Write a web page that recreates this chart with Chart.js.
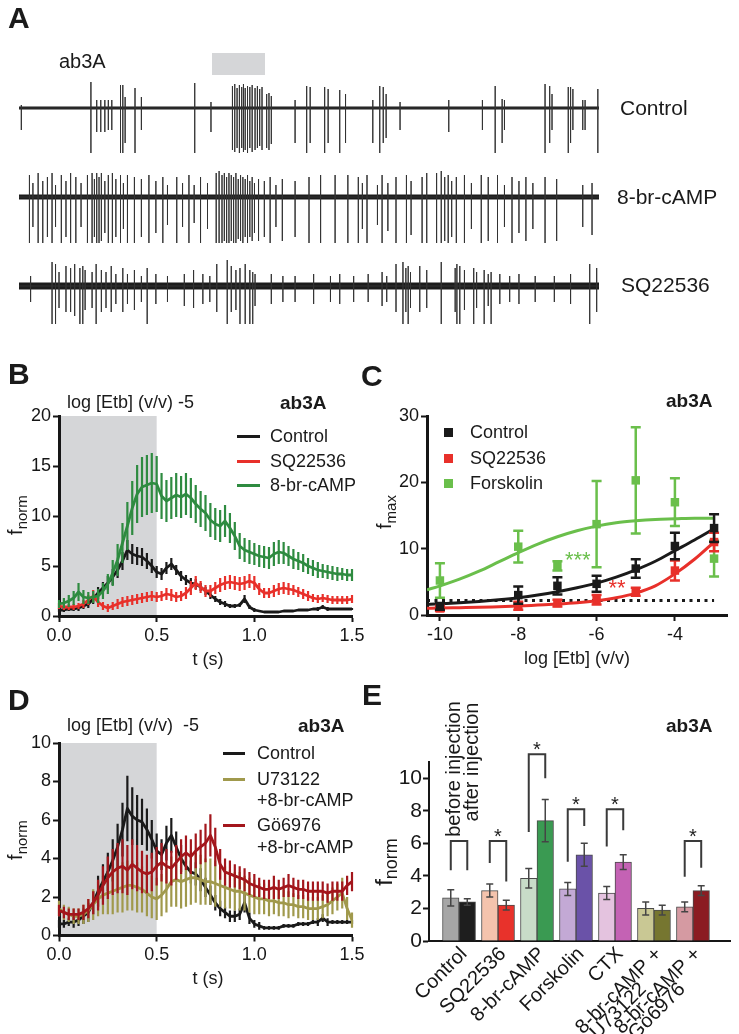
<!DOCTYPE html>
<html>
<head>
<meta charset="utf-8">
<script src="https://cdn.jsdelivr.net/npm/chart.js@4.4.1/dist/chart.umd.min.js"></script>
<style>
  html, body { margin: 0; padding: 0; background: #fff; }
  #page { position: relative; width: 739px; height: 1034px; overflow: hidden; background: #fff;
          font-family: 'Liberation Sans', Arial, Helvetica, sans-serif; color: #1a1a1a; }
  #page canvas { position: absolute; left: 0; top: 0; }
  .t { position: absolute; white-space: nowrap; line-height: 1; }
  .v { position: absolute; white-space: nowrap; line-height: 1; transform: translate(-50%, -50%) rotate(-90deg); }
  .sw { position: absolute; }
  sub { font-size: 0.75em; vertical-align: -0.3em; line-height: 0; }
</style>
</head>
<body>
<div id="page">
  <canvas id="chartA" width="739" height="1034"></canvas>
  <canvas id="chartB" width="739" height="1034"></canvas>
  <canvas id="chartC" width="739" height="1034"></canvas>
  <canvas id="chartD" width="739" height="1034"></canvas>
  <canvas id="chartE" width="739" height="1034"></canvas>
</div>
<script>
// ── Panel A: spike trains, [position % of trace, up, down] ─────────────────
const controlSpikes = [
  [0.4,3,22],[12.4,26,45],[13.4,8,24],[14.1,8,24],[14.8,8,24],[15.4,8,22],[16.0,8,22],[17.5,23,45],[17.9,23,45],
  [18.3,11,35],[20.0,20,45],[21.1,11,22],[30.3,25,45],[33.1,6,24],
  [36.8,22,42],[37.2,24,44],[37.6,20,40],[38.0,23,45],[38.4,21,40],[38.7,24,44],[39.0,20,42],[39.4,22,45],
  [39.8,21,40],[40.2,23,44],[40.7,20,42],[41.1,22,40],[41.5,19,38],[41.9,21,42],[42.7,14,40],[43.1,15,42],[43.5,12,36],
  [47.6,8,35],[49.6,22,45],[50.2,21,35],[52.7,21,45],[53.3,19,35],[55.3,18,45],[56.3,14,35],[61.0,8,35],
  [62.2,22,45],[62.8,21,35],[63.3,14,30],[65.7,6,22],[74.1,8,24],[79.9,8,22],[82.1,22,45],[83.3,9,35],[83.7,8,22],
  [90.7,24,45],[91.5,22,35],[91.9,14,22],[94.7,21,45],[95.1,21,35],[95.5,19,22],[97.2,8,22],[97.6,8,22],[99.8,19,45]
];
const cAMPSpikes = [
  [1.8,22,46],[2.4,14,30],[3.3,24,46],[4.1,16,46],[4.9,20,40],[5.7,24,46],[6.3,12,30],[7.3,22,46],[8.1,16,40],
  [8.9,24,46],[9.8,20,46],[10.7,14,30],[11.8,22,46],[12.6,24,46],[13.0,18,40],[13.4,24,46],[13.8,20,46],[14.2,24,44],
  [14.8,16,36],[15.4,22,46],[16.1,24,46],[16.7,18,40],[17.5,22,46],[18.0,14,32],[18.7,22,46],[19.9,20,46],[21.1,18,40],
  [22.4,22,46],[23.6,16,36],[24.8,20,46],[25.6,12,28],[27.2,20,46],[28.2,14,30],[29.3,22,46],[30.2,12,26],[31.3,20,46],
  [32.5,14,32],[34.0,24,46],[34.5,26,46],[35.0,22,46],[35.4,24,44],[35.8,20,46],[36.2,24,46],[36.6,22,44],[37.0,20,46],
  [37.4,24,46],[37.8,18,42],[38.2,22,44],[38.6,20,46],[39.0,18,40],[39.4,22,46],[39.8,16,40],[40.2,20,44],[40.6,14,36],
  [41.3,18,44],[42.3,16,40],[43.3,20,46],[44.3,12,30],[45.4,18,44],[47.6,16,40],[50.0,20,46],[52.0,22,46],[54.5,22,46],
  [56.7,22,46],[58.5,20,46],[59.2,14,32],[60.0,22,46],[61.8,12,28],[62.6,22,46],[63.6,14,34],[65.0,20,46],[66.8,22,46],
  [67.6,16,38],[69.5,20,46],[70.3,24,46],[72.0,24,46],[72.8,26,46],[73.4,20,44],[74.0,22,46],[74.6,16,40],[75.4,20,46],
  [76.8,22,46],[78.0,14,32],[79.7,22,46],[80.9,20,44],[82.5,22,46],[83.7,12,30],[85.0,20,46],[86.2,16,36],[87.4,20,44],
  [88.6,14,32],[90.7,20,46],[92.7,18,44],[97.2,12,30],[98.8,14,38]
];
const sqSpikes = [
  [2.0,10,16],[5.7,24,38],[6.3,22,38],[6.9,14,22],[8.1,20,26],[8.9,18,26],[9.6,22,30],[10.5,18,38],[11.0,20,38],
  [11.4,16,24],[12.6,14,22],[13.3,22,38],[14.2,16,26],[15.0,14,22],[15.9,20,26],[16.7,12,18],[17.9,18,26],[18.7,12,18],
  [19.9,16,24],[21.1,10,16],[22.1,18,38],[23.6,12,18],[25.6,10,16],[28.5,12,20],[30.1,16,22],[31.7,12,18],[32.9,10,16],
  [34.1,22,26],[35.9,26,38],[36.6,20,26],[37.4,16,24],[38.1,18,38],[39.0,22,38],[39.8,16,38],[40.3,14,38],[40.7,12,20],
  [43.5,12,18],[45.5,10,16],[47.6,10,16],[50.8,12,18],[53.7,10,16],[55.3,12,18],[57.7,10,16],[60.2,12,16],[62.6,14,20],
  [63.4,10,16],[65.0,22,26],[66.2,24,38],[66.7,18,26],[67.1,20,38],[67.5,14,22],[69.1,20,26],[70.3,16,22],[72.8,24,38],
  [75.2,18,26],[75.5,22,38],[76.0,20,38],[76.8,16,24],[78.4,18,38],[78.9,14,22],[80.2,16,38],[80.9,12,20],[81.4,14,38],
  [82.9,12,18],[84.6,10,16],[86.2,12,18],[89.0,10,16],[92.3,10,16],[95.1,12,18],[98.4,22,38],[99.6,18,26]
];

// ── Panels B / D: time course, f_norm mean and SEM ─────────────────────────
const timeS = [0,0.025,0.05,0.075,0.1,0.125,0.15,0.175,0.2,0.225,0.25,0.275,0.3,0.325,0.35,0.375,0.4,0.425,0.45,0.475,
  0.5,0.525,0.55,0.575,0.6,0.625,0.65,0.675,0.7,0.725,0.75,0.775,0.8,0.825,0.85,0.875,0.9,0.925,0.95,0.975,
  1.0,1.025,1.05,1.075,1.1,1.125,1.15,1.175,1.2,1.225,1.25,1.275,1.3,1.325,1.35,1.375,1.4,1.425,1.45,1.475,1.5];
const timeTicks = [0, 0.5, 1.0, 1.5];
const stimWindow = [0, 0.5];

const controlMean = [0.6,0.6,0.7,0.7,0.8,1.0,1.2,1.7,2.3,2.8, 3.3,3.9,4.6,5.5,6.6,6.2,6.0,5.9,5.5,5.0,
  4.4,4.2,4.8,5.2,4.6,4.0,3.6,3.3,3.2,2.9, 2.5,2.1,1.7,1.4,1.2,1.0,1.0,1.1,1.7,0.9,
  0.6,0.5,0.4,0.4,0.4,0.4,0.5,0.5,0.5,0.6, 0.6,0.6,0.7,0.7,0.9,0.7,0.7,0.7,0.7,0.7,0.7];
const controlErrB = [0.2,0.2,0.2,0.2,0.3,0.3,0.4,0.5,0.6,0.6, 0.7,0.8,0.8,0.9,1.0,1.0,0.9,0.9,0.8,0.7,
  0.6,0.6,0.6,0.6,0.5,0.5,0.5,0.5,0.5,0.4, 0.4,0.4,0.3,0.3,0.3,0.2,0.2,0.2,0.4,0.2,
  0.2,0.1,0.1,0.1,0.1,0.1,0.1,0.1,0.1,0.1, 0.1,0.1,0.1,0.2,0.2,0.2,0.1,0.1,0.1,0.1,0.1];
const controlErrD = [0.2,0.2,0.2,0.3,0.3,0.4,0.5,0.6,0.8,0.9, 1.0,1.1,1.2,1.4,1.7,1.5,1.3,1.2,1.1,1.0,
  0.9,0.8,0.9,0.9,0.8,0.7,0.7,0.6,0.6,0.6, 0.5,0.5,0.4,0.4,0.3,0.3,0.3,0.3,0.5,0.3,
  0.2,0.2,0.1,0.1,0.1,0.1,0.1,0.1,0.1,0.1, 0.1,0.1,0.1,0.2,0.2,0.2,0.1,0.1,0.1,0.1,0.1];
const sqMean = [1.0,0.9,0.9,0.9,1.0,1.2,1.6,2.0,1.4,1.0, 0.8,1.0,1.2,1.4,1.5,1.6,1.7,1.8,1.9,2.0,
  1.9,2.0,2.2,2.1,1.9,2.0,2.3,2.8,3.3,2.9, 2.5,2.5,2.8,3.1,3.3,3.4,3.3,3.2,3.3,3.5,
  3.3,2.7,2.3,2.3,2.5,2.7,2.8,2.7,2.6,2.4, 2.2,2.0,1.8,1.7,1.8,1.7,1.6,1.6,1.6,1.6,1.7];
const sqErr = [0.3,0.3,0.3,0.3,0.3,0.4,0.5,0.6,0.5,0.4, 0.4,0.4,0.5,0.5,0.5,0.5,0.5,0.5,0.5,0.5,
  0.5,0.5,0.6,0.6,0.5,0.5,0.6,0.7,0.7,0.6, 0.6,0.6,0.6,0.7,0.7,0.7,0.7,0.7,0.7,0.7,
  0.7,0.6,0.5,0.5,0.6,0.6,0.6,0.6,0.5,0.5, 0.5,0.5,0.4,0.4,0.4,0.4,0.4,0.4,0.4,0.4,0.4];
const cAMPMean = [1.2,1.3,1.5,1.8,2.4,1.9,1.8,1.9,2.0,2.5, 3.2,4.3,5.6,7.3,9.0,10.8,12.2,12.9,13.1,13.3,
  13.2,12.0,11.5,11.8,12.1,11.9,12.2,11.8,11.2,10.7, 10.3,9.6,9.2,9.0,9.5,8.8,8.0,7.0,6.6,6.4,
  6.2,6.0,5.9,5.8,6.2,6.4,6.3,6.0,5.7,5.5, 5.3,5.0,4.8,4.6,4.5,4.4,4.3,4.2,4.2,4.1,4.1];
const cAMPErr = [0.4,0.5,0.6,0.7,0.9,0.7,0.6,0.6,0.7,0.8, 1.0,1.3,1.6,2.0,2.4,2.7,2.9,3.0,3.0,3.0,
  2.8,2.3,2.1,2.1,2.2,2.1,2.1,2.0,1.9,1.8, 1.8,1.7,1.6,1.6,1.6,1.5,1.4,1.3,1.2,1.2,
  1.1,1.1,1.1,1.1,1.2,1.2,1.1,1.0,1.0,0.9, 0.9,0.8,0.8,0.8,0.7,0.7,0.7,0.7,0.6,0.6,0.6];
const u73Mean = [1.4,1.2,1.1,1.0,1.0,1.1,1.3,1.6,1.9,2.1, 2.2,2.3,2.4,2.5,2.6,2.6,2.5,2.4,2.2,2.0,
  1.9,2.1,2.4,2.8,2.9,2.8,2.9,3.0,3.0,2.9, 2.8,2.8,2.7,2.6,2.5,2.4,2.3,2.3,2.2,2.1,
  2.0,1.9,1.9,1.8,1.8,1.7,1.7,1.6,1.6,1.5, 1.5,1.4,1.4,1.4,1.5,1.6,1.8,2.0,2.2,1.4,0.8];
const u73Err = [0.4,0.4,0.4,0.4,0.4,0.5,0.6,0.8,0.9,1.0, 1.1,1.2,1.2,1.3,1.3,1.3,1.3,1.2,1.2,1.1,
  1.1,1.1,1.2,1.3,1.4,1.4,1.4,1.4,1.3,1.3, 1.2,1.2,1.2,1.1,1.1,1.0,1.0,1.0,0.9,0.9,
  0.9,0.8,0.8,0.8,0.7,0.7,0.7,0.7,0.6,0.6, 0.6,0.6,0.6,0.6,0.6,0.6,0.7,0.7,0.8,0.6,0.4];
const go69Mean = [1.3,1.2,1.1,1.1,1.1,1.2,1.4,1.7,2.1,2.6, 3.0,3.3,3.5,3.6,3.4,3.7,3.5,3.3,3.2,3.3,
  3.6,3.8,3.6,3.5,3.8,4.1,4.3,4.1,4.4,4.6, 4.8,5.2,4.6,3.7,3.3,3.2,3.1,3.0,2.9,2.7,
  2.6,2.5,2.4,2.4,2.5,2.4,2.5,2.6,2.5,2.4, 2.4,2.3,2.3,2.3,2.3,2.2,2.3,2.3,2.3,2.6,2.8];
const go69Err = [0.3,0.3,0.3,0.3,0.3,0.4,0.5,0.6,0.8,1.0, 1.1,1.2,1.3,1.4,1.3,1.3,1.2,1.1,1.0,1.0,
  1.0,1.0,0.9,0.9,0.9,0.9,0.9,0.9,0.9,0.9, 1.0,1.1,1.0,0.8,0.7,0.7,0.6,0.6,0.6,0.6,
  0.6,0.5,0.5,0.5,0.6,0.5,0.5,0.6,0.5,0.5, 0.5,0.5,0.5,0.5,0.5,0.5,0.5,0.5,0.5,0.5,0.5];

// ── Panel C: dose response, f_max ─────────────────────────────────────────
const logEtb = [-10, -8, -7, -6, -5, -4, -3];
const logTicks = [-10, -8, -6, -4];
const ctrlFmax = [1.3, 3.0, 4.4, 4.7, 7.0, 10.4, 13.1];
const ctrlFmaxErr = [0.5, 1.3, 1.3, 1.2, 1.4, 2.0, 2.1];
const sqFmax = [1.0, 1.4, 1.8, 2.3, 3.5, 6.7, 11.0];
const sqFmaxErr = [0.4, 0.6, 0.5, 0.7, 0.6, 1.5, 1.4];
const fskFmax = [5.2, 10.3, 7.4, 13.7, 20.3, 17.0, 8.5];
const fskFmaxErr = [2.6, 2.4, 0.7, 6.5, 8.0, 3.6, 2.7];
const fitLogEtb = [-10.33, -10, -9.5, -9, -8.5, -8, -7.5, -7, -6.5, -6, -5.5, -5, -4.5, -4, -3.5, -3];
const ctrlFit = [1.6, 1.7, 1.85, 2.05, 2.3, 2.6, 3.0, 3.5, 4.1, 4.8, 5.7, 6.8, 8.1, 9.7, 11.3, 13.0];
const sqFit = [1.0, 1.05, 1.1, 1.15, 1.25, 1.35, 1.5, 1.65, 1.85, 2.15, 2.6, 3.3, 4.4, 6.2, 8.4, 11.0];
const fskFit = [3.8, 4.4, 5.4, 6.6, 8.0, 9.4, 10.7, 11.8, 12.7, 13.4, 13.9, 14.2, 14.4, 14.5, 14.6, 14.6];
const spontaneousLevel = 2.2;
const cStars = [
  { x: -6.48, y: 9.0, text: '***', color: '#6abf4b' },
  { x: -5.48, y: 4.8, text: '**', color: '#e8302a' }
];

// ── Panel E: before / after injection ─────────────────────────────────────
const treatments = ['Control', 'SQ22536', '8-br-cAMP', 'Forskolin', 'CTX',
  ['8-br-cAMP +', 'U73122'], ['8-br-cAMP +', 'Gö6976']];
const beforeMean = [2.65, 3.1, 3.85, 3.2, 2.95, 2.0, 2.1];
const beforeErr = [0.5, 0.4, 0.6, 0.4, 0.4, 0.4, 0.3];
const afterMean = [2.4, 2.2, 7.4, 5.3, 4.85, 1.9, 3.1];
const afterErr = [0.2, 0.3, 1.3, 0.7, 0.45, 0.3, 0.3];
const beforeColors = ['#a6a6a6', '#f4c3ad', '#c8dcc8', '#c3a9d5', '#e4c3df', '#c9c894', '#d59aa2'];
const afterColors = ['#1e1e1e', '#e8322b', '#3a9a52', '#6a52a8', '#c462b4', '#767630', '#8b1c22'];
const bracketTop = [6.15, 6.15, 11.47, 8.1, 8.1, null, 6.15];
const bracketLeftEnd = [4.35, 4.8, 6.7, 4.87, 5.8, null, 3.95];
const bracketRightEnd = [4.35, 3.65, 10.0, 7.07, 6.8, null, 4.5];
const significant = [false, true, true, true, true, false, true];

// ── Shared setup ──────────────────────────────────────────────────────────
const W = 739, H = 1034;
const FONT = "'Liberation Sans', Arial, Helvetica, sans-serif";
const INK = '#161616';
const BLACK = '#1a1a1a', RED = '#e8302a', GREEN_B = '#2e8b40', GREEN_C = '#6abf4b';
const OLIVE = '#a0994c', DARKRED = '#a3161c';

Chart.defaults.font.family = FONT;
Chart.defaults.color = INK;
Chart.defaults.animation = false;
Chart.defaults.events = [];
Chart.defaults.plugins.legend.display = false;
Chart.defaults.plugins.tooltip.enabled = false;

// canvas covers the whole page, so the plot box is set in page pixels
function frame(left, top, right, bottom, yw, xh) {
  return { padding: { left: left - yw, top: top, right: W - right, bottom: H - bottom - xh } };
}
function fixedTicks(values) {
  return s => { s.ticks = values.map(v => ({ value: v })); };
}
function xy(xs, ys) { return xs.map((x, i) => ({ x, y: ys[i] })); }

function axis(min, max, ticks, fit, font, extra) {
  return Object.assign({
    type: 'linear', min, max,
    afterBuildTicks: fixedTicks(ticks),
    afterFit: fit,
    grid: { drawOnChartArea: false, tickLength: 6, tickWidth: 2, tickColor: INK },
    border: { width: 3, color: INK },
    ticks: { font: { size: font }, color: INK, padding: 2, maxRotation: 0, autoSkip: false }
  }, extra || {});
}

function trace(xs, ys, errs, color) {
  return { data: xy(xs, ys), errors: errs, borderColor: color, borderWidth: 2.8,
           errorWidth: 2.2, pointRadius: 0, tension: 0, borderJoinStyle: 'round' };
}

// error bars drawn right after each dataset, through its own scales
const errorBars = {
  id: 'errorBars',
  afterDatasetDraw(chart, args) {
    const ds = chart.data.datasets[args.index];
    if (!ds.errors) return;
    const ctx = chart.ctx;
    const yScale = chart.scales[args.meta.yAxisID];
    ctx.save();
    ctx.strokeStyle = ds.errorColor || ds.borderColor;
    ctx.lineWidth = ds.errorWidth || 2;
    ctx.beginPath();
    args.meta.data.forEach((el, i) => {
      const e = ds.errors[i];
      if (!e) return;
      const v = ds.data[i].y;
      const top = yScale.getPixelForValue(v + e);
      const bot = yScale.getPixelForValue(Math.max(v - e, 0));
      ctx.moveTo(el.x, top); ctx.lineTo(el.x, bot);
      if (ds.capWidth) {
        const c = ds.capWidth / 2;
        ctx.moveTo(el.x - c, top); ctx.lineTo(el.x + c, top);
        ctx.moveTo(el.x - c, bot); ctx.lineTo(el.x + c, bot);
      }
    });
    ctx.stroke();
    ctx.restore();
  }
};

// grey odour-stimulus band behind the traces
const stimBand = {
  id: 'stimBand',
  beforeDraw(chart) {
    const { ctx, chartArea: a, scales: { x } } = chart;
    const x0 = x.getPixelForValue(stimWindow[0]), x1 = x.getPixelForValue(stimWindow[1]);
    ctx.save();
    ctx.fillStyle = '#d5d6d8';
    ctx.fillRect(x0, a.top, x1 - x0, a.bottom - a.top);
    ctx.restore();
  }
};

// ── A: raw recordings ─────────────────────────────────────────────────────
function spikeTrain(spikes, base) {
  const pts = [{ x: 0, y: base }];
  spikes.forEach(([p, up, down]) => {
    pts.push({ x: p, y: base }, { x: p, y: base - up }, { x: p, y: base + down }, { x: p, y: base });
  });
  pts.push({ x: 100, y: base });
  return pts;
}
const traceRows = [
  { spikes: controlSpikes, base: 108, noise: 3 },
  { spikes: cAMPSpikes, base: 197, noise: 5 },
  { spikes: sqSpikes, base: 286, noise: 7 }
];
const aSets = [];
traceRows.forEach(r => aSets.push({ data: spikeTrain(r.spikes, r.base), borderColor: '#333',
  borderWidth: 1, pointRadius: 0, tension: 0 }));
traceRows.forEach(r => aSets.push({ data: [{ x: 0, y: r.base }, { x: 100, y: r.base }],
  borderColor: '#1c1c1c', borderWidth: r.noise, pointRadius: 0 }));

new Chart(document.getElementById('chartA'), {
  type: 'line',
  data: { datasets: aSets },
  options: {
    responsive: false,
    layout: { padding: { left: 19, right: W - 599, top: 50, bottom: H - 340 } },
    scales: {
      x: { type: 'linear', min: 0, max: 100, display: false },
      y: { type: 'linear', min: 50, max: 340, reverse: true, display: false }
    }
  }
});

// ── B: time course with 8-br-cAMP / SQ22536 ───────────────────────────────
new Chart(document.getElementById('chartB'), {
  type: 'line',
  data: { datasets: [
    trace(timeS, cAMPMean, cAMPErr, GREEN_B),
    trace(timeS, sqMean, sqErr, RED),
    trace(timeS, controlMean, controlErrB, BLACK)
  ] },
  options: {
    responsive: false,
    layout: frame(59, 416, 352, 616, 50, 40),
    scales: {
      x: axis(0, 1.5, timeTicks, s => { s.height = 40; }, 18,
        { ticks: { font: { size: 18 }, color: INK, padding: 3, maxRotation: 0, callback: v => v.toFixed(1) } }),
      y: axis(0, 20, [0, 5, 10, 15, 20], s => { s.width = 50; }, 18)
    }
  },
  plugins: [stimBand, errorBars]
});

// ── C: dose-response curves ───────────────────────────────────────────────
function points(ys, errs, color) {
  return { data: xy(logEtb, ys), errors: errs, borderColor: color, backgroundColor: color,
           showLine: false, pointStyle: 'rect', pointRadius: 6, pointBorderWidth: 0,
           pointBackgroundColor: color, errorWidth: 2.5, capWidth: 10 };
}
function fit(ys, color) {
  return { data: xy(fitLogEtb, ys), borderColor: color, borderWidth: 3, pointRadius: 0,
           cubicInterpolationMode: 'monotone' };
}
const starLabels = {
  id: 'starLabels',
  afterDatasetsDraw(chart) {
    const { ctx, scales: { x, y } } = chart;
    ctx.save();
    ctx.font = '22px ' + FONT;
    ctx.textAlign = 'center';
    ctx.textBaseline = 'alphabetic';
    cStars.forEach(s => {
      ctx.fillStyle = s.color;
      ctx.fillText(s.text, x.getPixelForValue(s.x), y.getPixelForValue(s.y) + 12);
    });
    ctx.restore();
  }
};
new Chart(document.getElementById('chartC'), {
  type: 'line',
  data: { datasets: [
    points(ctrlFmax, ctrlFmaxErr, BLACK),
    points(sqFmax, sqFmaxErr, RED),
    points(fskFmax, fskFmaxErr, GREEN_C),
    fit(ctrlFit, BLACK),
    fit(sqFit, RED),
    fit(fskFit, GREEN_C),
    { data: [{ x: fitLogEtb[0], y: spontaneousLevel }, { x: -3, y: spontaneousLevel }],
      borderColor: BLACK, borderWidth: 3, borderDash: [3, 4.5], pointRadius: 0 }
  ] },
  options: {
    responsive: false,
    layout: frame(427, 416, 727, 615, 40, 40),
    scales: {
      x: axis(-10.33, -2.67, logTicks, s => { s.height = 40; }, 18,
        { ticks: { font: { size: 18 }, color: INK, padding: 3, maxRotation: 0 } }),
      y: axis(0, 30, [0, 10, 20, 30], s => { s.width = 40; }, 18)
    }
  },
  plugins: [errorBars, starLabels]
});

// ── D: time course with PLC / PKC inhibitors ──────────────────────────────
new Chart(document.getElementById('chartD'), {
  type: 'line',
  data: { datasets: [
    trace(timeS, go69Mean, go69Err, DARKRED),
    trace(timeS, u73Mean, u73Err, OLIVE),
    trace(timeS, controlMean, controlErrD, BLACK)
  ] },
  options: {
    responsive: false,
    layout: frame(59, 743, 352, 935.5, 50, 40),
    scales: {
      x: axis(0, 1.5, timeTicks, s => { s.height = 40; }, 18,
        { ticks: { font: { size: 18 }, color: INK, padding: 3, maxRotation: 0, callback: v => v.toFixed(1) } }),
      y: axis(0, 10, [0, 2, 4, 6, 8, 10], s => { s.width = 50; }, 18)
    }
  },
  plugins: [stimBand, errorBars]
});

// ── E: paired bars, before vs after injection ─────────────────────────────
const brackets = {
  id: 'brackets',
  afterDatasetsDraw(chart) {
    const { ctx, scales: { y } } = chart;
    const before = chart.getDatasetMeta(0).data, after = chart.getDatasetMeta(1).data;
    ctx.save();
    ctx.strokeStyle = '#3a3a3a';
    ctx.fillStyle = '#222';
    ctx.lineWidth = 2;
    ctx.font = '20px ' + FONT;
    ctx.textAlign = 'center';
    bracketTop.forEach((topV, i) => {
      if (topV == null) return;
      const lx = before[i].x, rx = after[i].x, ty = y.getPixelForValue(topV);
      ctx.beginPath();
      ctx.moveTo(lx, y.getPixelForValue(bracketLeftEnd[i]));
      ctx.lineTo(lx, ty);
      ctx.lineTo(rx, ty);
      ctx.lineTo(rx, y.getPixelForValue(bracketRightEnd[i]));
      ctx.stroke();
      if (significant[i]) ctx.fillText('*', (lx + rx) / 2, ty + 2);
    });
    ctx.restore();
  }
};
// slanted category names, placed at the x scale's tick positions;
// the second line sits halfway to the next category's first line
const categoryLabels = {
  id: 'categoryLabels',
  afterDraw(chart) {
    const { ctx, chartArea: a, scales: { x } } = chart;
    const step = (x.getPixelForValue(1) - x.getPixelForValue(0)) * Math.SQRT1_2 / 2;
    ctx.save();
    ctx.font = '20px ' + FONT;
    ctx.fillStyle = INK;
    ctx.textAlign = 'right';
    ctx.textBaseline = 'middle';
    treatments.forEach((lab, i) => {
      const lines = Array.isArray(lab) ? lab : [lab];
      ctx.save();
      ctx.translate(x.getPixelForValue(i) + 5, a.bottom + 10);
      ctx.rotate(-Math.PI / 4);
      lines.forEach((l, k) => ctx.fillText(l, -k * 36, k * step));
      ctx.restore();
    });
    ctx.restore();
  }
};
function bars(ys, errs, colors, label) {
  return { label, data: ys.map((y, i) => ({ x: i, y })), errors: errs, backgroundColor: colors,
           borderColor: '#4a4a4a', borderWidth: 1, barThickness: 16.5,
           errorColor: '#454545', errorWidth: 1.5, capWidth: 7 };
}
new Chart(document.getElementById('chartE'), {
  type: 'bar',
  data: { datasets: [
    bars(beforeMean, beforeErr, beforeColors, 'before injection'),
    bars(afterMean, afterErr, afterColors, 'after injection')
  ] },
  options: {
    responsive: false,
    layout: frame(429, 762, 730, 941, 60, 80),
    scales: {
      x: { type: 'linear', min: -0.77, max: 6.95, offset: false,
           afterBuildTicks: fixedTicks([0, 1, 2, 3, 4, 5, 6]),
           afterFit: s => { s.height = 80; },
           grid: { display: false },
           border: { width: 2, color: INK },
           ticks: { display: false } },
      y: axis(0, 11, [0, 2, 4, 6, 8, 10], s => { s.width = 60; }, 21,
        { border: { width: 2, color: INK },
          ticks: { font: { size: 21 }, color: INK, padding: 1 } })
    }
  },
  plugins: [errorBars, brackets, categoryLabels]
});

// ── Text overlays ─────────────────────────────────────────────────────────
const page = document.getElementById('page');
function text(html, x, y, size, opts) {
  const o = opts || {};
  const d = document.createElement('div');
  d.className = 't';
  d.innerHTML = html;
  d.style.fontSize = size + 'px';
  d.style.left = x + 'px';
  d.style.top = (y - size * 0.49) + 'px';
  if (o.bold) d.style.fontWeight = 'bold';
  if (o.center) d.style.transform = 'translateX(-50%)';
  page.appendChild(d);
}
function vtext(html, cx, cy, size) {
  const d = document.createElement('div');
  d.className = 'v';
  d.innerHTML = html;
  d.style.fontSize = size + 'px';
  d.style.left = cx + 'px';
  d.style.top = cy + 'px';
  page.appendChild(d);
}
function swatch(x, y, w, h, color) {
  const d = document.createElement('div');
  d.className = 'sw';
  Object.assign(d.style, { left: x + 'px', top: y + 'px', width: w + 'px', height: h + 'px', background: color });
  page.appendChild(d);
}

// A
text('A', 8, 18, 30, { bold: true });
text('ab3A', 59, 61, 20);
swatch(212, 53, 53, 22, '#d5d6d8');
text('Control', 620, 107, 21);
text('8-br-cAMP', 617, 196, 21);
text('SQ22536', 621, 284, 21);

// B
text('B', 8, 374, 30, { bold: true });
text('log [Etb] (v/v) -5', 67, 402, 18);
text('ab3A', 280, 402, 19, { bold: true });
[['Control', BLACK, 436], ['SQ22536', RED, 461], ['8-br-cAMP', GREEN_B, 485]].forEach(([l, c, y]) => {
  swatch(237, y - 1.5, 23, 3, c);
  text(l, 270, y, 18);
});
vtext('f<sub>norm</sub>', 15, 515, 20);
text('t (s)', 208, 659, 18, { center: true });

// C
text('C', 361, 376, 30, { bold: true });
text('ab3A', 666, 400, 19, { bold: true });
[['Control', BLACK, 432], ['SQ22536', RED, 458], ['Forskolin', GREEN_C, 483]].forEach(([l, c, y]) => {
  swatch(444, y - 4.5, 9, 9, c);
  text(l, 470, y, 18);
});
vtext('f<sub>max</sub>', 384, 512, 20);
text('log [Etb] (v/v)', 577, 658, 18, { center: true });

// D
text('D', 8, 700, 30, { bold: true });
text('log [Etb] (v/v) &nbsp;-5', 67, 725, 18);
text('ab3A', 298, 725, 19, { bold: true });
swatch(223, 751.5, 22, 3, BLACK);
swatch(223, 777.5, 22, 3, OLIVE);
swatch(223, 823.5, 22, 3, DARKRED);
text('Control', 257, 753, 18);
text('U73122', 257, 779, 18);
text('+8-br-cAMP', 257, 800, 18);
text('Gö6976', 257, 825, 18);
text('+8-br-cAMP', 257, 847, 18);
vtext('f<sub>norm</sub>', 15, 840, 20);
text('t (s)', 208, 978, 18, { center: true });

// E
text('E', 362, 695, 30, { bold: true });
text('ab3A', 666, 725, 19, { bold: true });
vtext('after injection', 471, 762, 20);
vtext('before injection', 453, 769, 20);
vtext('f<sub>norm</sub>', 384, 862, 24);
</script>
</body>
</html>
